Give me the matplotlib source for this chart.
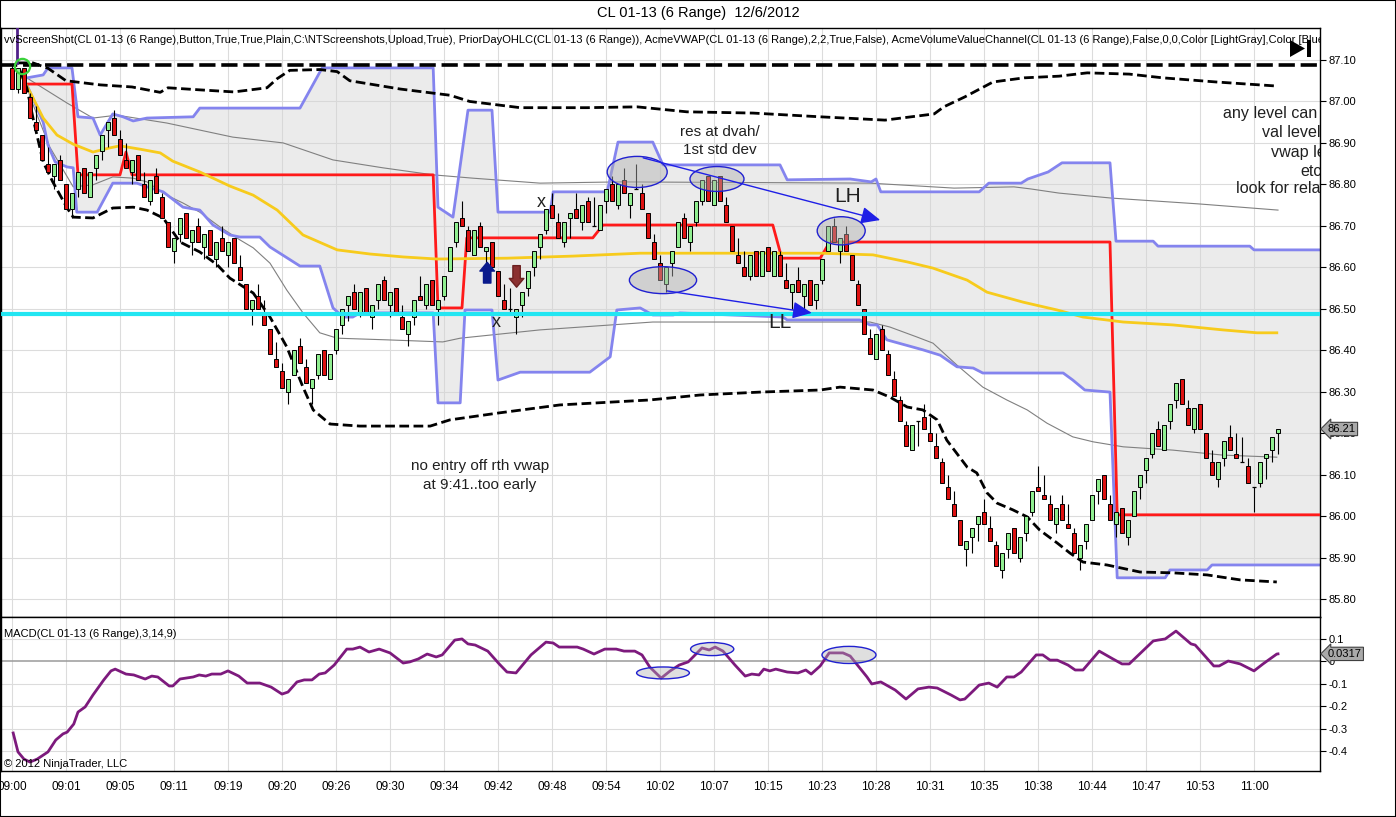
import numpy as np
import matplotlib
matplotlib.use("Agg")
import matplotlib.pyplot as plt
from matplotlib.patches import Ellipse, Polygon, Rectangle
from matplotlib.transforms import blended_transform_factory

plt.rcParams['font.family'] = ['Liberation Sans', 'DejaVu Sans']

W, H = 1396, 817

# time labels, one every 9 bars
time_labels = ['09:00', '09:01', '09:05', '09:11', '09:19', '09:20', '09:26', '09:30',
               '09:34', '09:42', '09:48', '09:54', '10:02', '10:07', '10:15', '10:23',
               '10:28', '10:31', '10:35', '10:38', '10:44', '10:47', '10:53', '11:00']

# 6 range bars, CL 01-13
opens = [87.08, 87.03, 87.08, 87.01, 86.95, 86.92, 86.85, 86.82, 86.86, 86.80, 86.74, 86.79,
         86.84, 86.77, 86.84, 86.88, 86.93, 86.96, 86.91, 86.86, 86.83, 86.87, 86.80, 86.76,
         86.82, 86.77, 86.71, 86.64, 86.68, 86.73, 86.66, 86.70, 86.65, 86.69, 86.62, 86.67,
         86.63, 86.67, 86.60, 86.56, 86.50, 86.53, 86.49, 86.45, 86.38, 86.35, 86.30, 86.34,
         86.41, 86.36, 86.31, 86.34, 86.40, 86.33, 86.40, 86.46, 86.51, 86.54, 86.49, 86.55,
         86.48, 86.52, 86.57, 86.51, 86.55, 86.48, 86.44, 86.48, 86.53, 86.51, 86.57, 86.50,
         86.53, 86.59, 86.66, 86.72, 86.69, 86.63, 86.70, 86.64, 86.66, 86.59, 86.52, 86.50,
         86.48, 86.51, 86.55, 86.60, 86.65, 86.69, 86.75, 86.71, 86.66, 86.72, 86.74, 86.71,
         86.76, 86.70, 86.69, 86.76, 86.80, 86.75, 86.81, 86.75, 86.79, 86.78, 86.73, 86.66,
         86.61, 86.56, 86.61, 86.65, 86.72, 86.66, 86.71, 86.76, 86.82, 86.75, 86.82, 86.75,
         86.70, 86.63, 86.60, 86.58, 86.64, 86.58, 86.65, 86.58, 86.63, 86.57, 86.54, 86.57,
         86.53, 86.57, 86.52, 86.57, 86.64, 86.70, 86.64, 86.68, 86.63, 86.56, 86.50, 86.43,
         86.38, 86.45, 86.39, 86.33, 86.28, 86.22, 86.16, 86.23, 86.24, 86.20, 86.17, 86.13,
         86.07, 86.03, 85.99, 85.92, 85.95, 85.98, 86.01, 85.97, 85.93, 85.87, 85.92, 85.97,
         85.90, 85.96, 86.01, 86.07, 86.05, 86.03, 85.98, 86.03, 85.98, 85.96, 85.90, 85.94,
         85.99, 86.06, 86.10, 86.03, 85.98, 86.02, 85.95, 86.00, 86.07, 86.11, 86.15, 86.21,
         86.16, 86.23, 86.28, 86.33, 86.26, 86.21, 86.27, 86.20, 86.13, 86.09, 86.14, 86.19,
         86.15, 86.13, 86.12, 86.07, 86.08, 86.14, 86.16, 86.20]
highs = [87.09, 87.08, 87.08, 87.02, 86.99, 86.92, 86.89, 86.85, 86.87, 86.80, 86.78, 86.83,
         86.84, 86.83, 86.87, 86.92, 86.95, 86.98, 86.93, 86.90, 86.86, 86.87, 86.83, 86.81,
         86.84, 86.78, 86.71, 86.67, 86.72, 86.73, 86.69, 86.72, 86.68, 86.69, 86.66, 86.70,
         86.66, 86.67, 86.63, 86.56, 86.52, 86.56, 86.52, 86.45, 86.42, 86.37, 86.33, 86.40,
         86.43, 86.38, 86.33, 86.39, 86.40, 86.39, 86.45, 86.50, 86.53, 86.56, 86.54, 86.55,
         86.51, 86.56, 86.58, 86.54, 86.55, 86.51, 86.47, 86.52, 86.58, 86.56, 86.57, 86.52,
         86.58, 86.65, 86.71, 86.76, 86.70, 86.69, 86.71, 86.65, 86.66, 86.59, 86.56, 86.55,
         86.50, 86.54, 86.59, 86.64, 86.68, 86.74, 86.78, 86.73, 86.71, 86.73, 86.78, 86.75,
         86.77, 86.77, 86.75, 86.79, 86.82, 86.80, 86.84, 86.78, 86.85, 86.80, 86.73, 86.68,
         86.63, 86.60, 86.64, 86.71, 86.73, 86.70, 86.76, 86.81, 86.82, 86.81, 86.82, 86.77,
         86.70, 86.67, 86.64, 86.63, 86.64, 86.64, 86.65, 86.64, 86.64, 86.61, 86.56, 86.60,
         86.56, 86.57, 86.56, 86.62, 86.70, 86.72, 86.67, 86.70, 86.63, 86.57, 86.50, 86.45,
         86.44, 86.46, 86.40, 86.35, 86.29, 86.23, 86.22, 86.23, 86.27, 86.24, 86.20, 86.14,
         86.10, 86.06, 85.99, 85.94, 85.97, 86.00, 86.04, 86.00, 85.94, 85.91, 85.96, 85.97,
         85.95, 86.00, 86.06, 86.12, 86.10, 86.05, 86.02, 86.05, 86.03, 85.97, 85.93, 85.98,
         86.05, 86.09, 86.10, 86.05, 86.01, 86.02, 85.99, 86.06, 86.10, 86.14, 86.20, 86.23,
         86.22, 86.27, 86.32, 86.33, 86.28, 86.26, 86.27, 86.20, 86.16, 86.13, 86.18, 86.22,
         86.20, 86.19, 86.14, 86.07, 86.13, 86.15, 86.19, 86.21]
lows = [87.03, 87.02, 87.02, 86.96, 86.93, 86.86, 86.83, 86.79, 86.81, 86.74, 86.72, 86.77,
        86.78, 86.77, 86.81, 86.86, 86.89, 86.92, 86.87, 86.84, 86.80, 86.81, 86.77, 86.75,
        86.78, 86.72, 86.65, 86.61, 86.66, 86.67, 86.63, 86.66, 86.62, 86.63, 86.60, 86.64,
        86.60, 86.61, 86.57, 86.50, 86.46, 86.50, 86.46, 86.39, 86.36, 86.31, 86.27, 86.34,
        86.37, 86.32, 86.27, 86.33, 86.34, 86.33, 86.39, 86.44, 86.47, 86.50, 86.48, 86.49,
        86.45, 86.50, 86.52, 86.48, 86.49, 86.45, 86.41, 86.46, 86.52, 86.50, 86.51, 86.46,
        86.52, 86.59, 86.65, 86.70, 86.64, 86.63, 86.65, 86.59, 86.60, 86.53, 86.50, 86.49,
        86.44, 86.48, 86.53, 86.58, 86.62, 86.68, 86.72, 86.67, 86.65, 86.67, 86.72, 86.69,
        86.71, 86.70, 86.69, 86.73, 86.76, 86.74, 86.78, 86.72, 86.79, 86.74, 86.67, 86.62,
        86.57, 86.54, 86.58, 86.65, 86.67, 86.64, 86.70, 86.75, 86.76, 86.75, 86.76, 86.71,
        86.64, 86.61, 86.58, 86.57, 86.58, 86.58, 86.59, 86.58, 86.58, 86.55, 86.50, 86.54,
        86.50, 86.51, 86.50, 86.56, 86.64, 86.66, 86.61, 86.64, 86.57, 86.51, 86.44, 86.39,
        86.38, 86.40, 86.34, 86.29, 86.23, 86.17, 86.16, 86.17, 86.21, 86.18, 86.14, 86.08,
        86.04, 86.00, 85.93, 85.88, 85.91, 85.94, 85.98, 85.94, 85.88, 85.85, 85.90, 85.91,
        85.89, 85.94, 86.00, 86.06, 86.04, 85.99, 85.96, 85.99, 85.97, 85.91, 85.87, 85.92,
        85.99, 86.03, 86.04, 85.99, 85.95, 85.96, 85.93, 86.00, 86.04, 86.08, 86.14, 86.17,
        86.16, 86.21, 86.26, 86.27, 86.22, 86.20, 86.21, 86.14, 86.10, 86.07, 86.12, 86.16,
        86.14, 86.13, 86.08, 86.01, 86.07, 86.09, 86.13, 86.15]
closes = [87.03, 87.08, 87.02, 86.96, 86.93, 86.86, 86.83, 86.85, 86.81, 86.74, 86.78, 86.83,
          86.78, 86.83, 86.87, 86.92, 86.95, 86.92, 86.87, 86.84, 86.86, 86.81, 86.77, 86.81,
          86.78, 86.72, 86.65, 86.67, 86.72, 86.67, 86.69, 86.66, 86.68, 86.63, 86.66, 86.64,
          86.66, 86.61, 86.57, 86.50, 86.52, 86.50, 86.46, 86.39, 86.36, 86.31, 86.33, 86.40,
          86.37, 86.32, 86.33, 86.39, 86.34, 86.39, 86.45, 86.50, 86.53, 86.50, 86.54, 86.49,
          86.51, 86.56, 86.52, 86.54, 86.49, 86.45, 86.47, 86.52, 86.52, 86.56, 86.51, 86.52,
          86.58, 86.65, 86.71, 86.70, 86.64, 86.69, 86.65, 86.65, 86.60, 86.53, 86.50, 86.50,
          86.50, 86.54, 86.59, 86.64, 86.68, 86.74, 86.72, 86.67, 86.71, 86.73, 86.72, 86.75,
          86.71, 86.70, 86.75, 86.79, 86.76, 86.80, 86.78, 86.78, 86.79, 86.74, 86.67, 86.62,
          86.57, 86.60, 86.64, 86.71, 86.67, 86.70, 86.76, 86.81, 86.76, 86.81, 86.76, 86.71,
          86.64, 86.61, 86.58, 86.63, 86.58, 86.64, 86.59, 86.64, 86.58, 86.55, 86.56, 86.54,
          86.56, 86.51, 86.56, 86.62, 86.70, 86.66, 86.67, 86.64, 86.57, 86.51, 86.44, 86.39,
          86.44, 86.40, 86.34, 86.29, 86.23, 86.17, 86.22, 86.23, 86.21, 86.18, 86.14, 86.08,
          86.04, 86.00, 85.93, 85.94, 85.97, 86.00, 85.98, 85.94, 85.88, 85.91, 85.96, 85.91,
          85.95, 86.00, 86.06, 86.06, 86.04, 85.99, 86.02, 85.99, 85.97, 85.91, 85.93, 85.98,
          86.05, 86.09, 86.04, 85.99, 86.01, 85.96, 85.99, 86.06, 86.10, 86.14, 86.20, 86.17,
          86.22, 86.27, 86.32, 86.27, 86.22, 86.26, 86.21, 86.14, 86.10, 86.13, 86.18, 86.16,
          86.14, 86.13, 86.08, 86.07, 86.13, 86.15, 86.19, 86.21]

prior_high = 87.088
level_line = 86.487

# vwap and bands (bar index, price)
vwap_x = [1, 3, 5.2, 7.5, 10.2, 13.5, 16.3, 18, 21.3, 24.7, 26.8, 31.3, 36.3, 40.2, 44.2, 48.5,
          54.2, 59.7, 65.2, 70.8, 82.5, 93.5, 104.7, 134.7, 143.5, 149.2, 153.5, 159.2, 162.5,
          168.5, 174.2, 178.5, 185.2, 193.5, 201.8, 207.5, 210.8]
vwap_y = [87.076, 87.023, 86.96, 86.919, 86.897, 86.878, 86.888, 86.893, 86.885, 86.876, 86.856,
          86.83, 86.796, 86.774, 86.738, 86.678, 86.642, 86.632, 86.625, 86.62, 86.622, 86.627,
          86.634, 86.634, 86.63, 86.613, 86.598, 86.569, 86.54, 86.516, 86.497, 86.48, 86.468,
          86.461, 86.449, 86.442, 86.442]
upper_x = [1, 3.5, 6, 9, 14.7, 20, 24.7, 26, 31.3, 37, 42.5, 44.2, 46.3, 51.3, 54.2, 56.3, 64.7,
           73, 76.3, 84.7, 95.8, 104.2, 112.5, 123.5, 134.7, 145.5, 153.7, 155.3, 158.8, 163.5,
           168.7, 174.5, 179.2, 186.2, 191.8, 200.7, 211]
upper_y = [87.093, 87.093, 87.08, 87.05, 87.04, 87.035, 87.022, 87.033, 87.028, 87.023, 87.033,
           87.055, 87.075, 87.077, 87.072, 87.05, 87.03, 87.015, 87.0, 86.985, 86.985, 86.987,
           86.975, 86.972, 86.963, 86.955, 86.97, 86.987, 87.011, 87.047, 87.057, 87.061, 87.069,
           87.066, 87.057, 87.047, 87.037]
lower_x = [1.3, 2.5, 3.5, 5.2, 6.8, 9.2, 10.2, 13.5, 16.8, 20.2, 22.5, 25.2, 28, 31.3, 34.2,
           36.3, 40.2, 43, 45.8, 48.5, 50.2, 53, 58, 69.7, 73, 81.3, 91.3, 106.3, 114.7, 124.7,
           134.7, 138, 143.5, 146.3, 149.2, 151.8, 154.2, 155.8, 159.2, 160.8, 162.5, 164.2,
           166.8, 169.2, 171.3, 174.2, 176.3, 178.5, 182.5, 188, 193.5, 199.2, 204.7, 210.8]
lower_y = [87.076, 87.032, 86.96, 86.854, 86.806, 86.743, 86.721, 86.719, 86.743, 86.745, 86.738,
           86.719, 86.661, 86.637, 86.606, 86.574, 86.538, 86.48, 86.408, 86.311, 86.256, 86.222,
           86.217, 86.217, 86.232, 86.249, 86.268, 86.28, 86.292, 86.299, 86.304, 86.311, 86.304,
           86.287, 86.263, 86.256, 86.232, 86.183, 86.118, 86.104, 86.056, 86.031, 86.015, 85.998,
           85.966, 85.935, 85.911, 85.889, 85.882, 85.865, 85.863, 85.858, 85.846, 85.841]

# value area high / low
vah_x = [2.5, 5.2, 6, 10, 11, 13.5, 14.7, 16.8, 18.5, 20.2, 22.5, 30.2, 31.3, 48, 51.7, 70.2, 71,
         73.5, 76, 80, 81, 89.7, 90.2, 99.2, 101, 106.8, 108.5, 128, 129.2, 139.7, 143.2, 144,
         144.8, 161.2, 162.8, 168.2, 169.3, 171.3, 172.7, 175, 183, 184, 190.2, 191, 206.3, 207, 218]
vah_y = [87.057, 87.064, 87.081, 87.081, 86.963, 86.96, 86.919, 86.97, 86.963, 86.953, 86.96,
         86.963, 86.984, 86.984, 87.081, 87.081, 86.745, 86.721, 86.979, 86.979, 86.733, 86.733,
         86.782, 86.782, 86.902, 86.902, 86.847, 86.847, 86.811, 86.813, 86.806, 86.813, 86.782,
         86.782, 86.803, 86.803, 86.813, 86.823, 86.83, 86.852, 86.852, 86.663, 86.663, 86.651,
         86.651, 86.642, 86.642]
val_x = [2.5, 3, 5.2, 6, 7.2, 9.2, 10.2, 10.8, 14.2, 16.8, 20.8, 22.5, 25.2, 28.5, 31.3, 33.5,
         36.3, 38, 41.3, 43, 48, 51.3, 53.5, 55.2, 56.8, 58, 70.2, 71, 74.7, 75.5, 80, 81, 84.7,
         96.3, 99.7, 100.8, 104.7, 106.8, 110.2, 111.3, 128.5, 129.2, 141.3, 143, 144.2, 145.8,
         151.8, 154.7, 157.5, 160.2, 161.8, 175.2, 176.8, 178.8, 183, 184.2, 192.2, 193, 199.2,
         200, 218]
val_y = [87.04, 87.023, 86.95, 86.895, 86.854, 86.842, 86.84, 86.733, 86.733, 86.803, 86.803,
         86.794, 86.782, 86.745, 86.738, 86.702, 86.678, 86.673, 86.673, 86.649, 86.603, 86.603,
         86.502, 86.48, 86.48, 86.49, 86.49, 86.273, 86.273, 86.497, 86.497, 86.328, 86.347,
         86.347, 86.384, 86.497, 86.502, 86.485, 86.485, 86.49, 86.48, 86.473, 86.473, 86.461,
         86.461, 86.425, 86.401, 86.388, 86.36, 86.357, 86.345, 86.345, 86.328, 86.304, 86.299,
         85.851, 85.851, 85.87, 85.87, 85.882, 85.882]

# developing POC
poc_x = [2.5, 10, 11, 18, 19, 20, 70.2, 71, 75, 75.8, 96.8, 98.5, 126.8, 128.3, 134.7, 136.3,
         183, 184.2, 218]
poc_y = [87.042, 87.042, 86.823, 86.823, 86.878, 86.823, 86.823, 86.502, 86.502, 86.671, 86.671,
         86.702, 86.702, 86.622, 86.622, 86.661, 86.661, 86.003, 86.003]

# thin grey std-dev lines
sd1_x = [2.5, 3, 9.2, 13.5, 17.5, 25.8, 36.8, 45.2, 53.5, 61.8, 70.2, 76.8, 88, 101.3, 143, 157,
         167, 169.8, 174.5, 183.2, 197.7, 211]
sd1_y = [87.057, 87.052, 86.996, 86.96, 86.967, 86.948, 86.914, 86.90, 86.859, 86.84, 86.823,
         86.815, 86.803, 86.806, 86.803, 86.791, 86.794, 86.789, 86.779, 86.767, 86.753, 86.738]
sd2_x = [2.5, 3, 6.3, 10.2, 13.5, 16.8, 20.2, 22.5, 25.8, 28.5, 31.3, 34.7, 38, 40.2, 43, 45.8,
         48.5, 51.3, 54.2, 62.5, 71.8, 74.7, 88, 106.8, 143, 146.3, 150.8, 153.5, 157.5, 161.8,
         165.8, 169.2, 172.5, 176.8, 180.2, 185.2, 193.5, 201.8, 210.8]
sd2_y = [87.04, 87.011, 86.89, 86.794, 86.799, 86.818, 86.815, 86.806, 86.774, 86.755, 86.733,
         86.697, 86.666, 86.647, 86.61, 86.545, 86.49, 86.442, 86.429, 86.425, 86.42, 86.429,
         86.449, 86.468, 86.468, 86.456, 86.432, 86.417, 86.364, 86.311, 86.28, 86.256, 86.224,
         86.191, 86.179, 86.167, 86.159, 86.147, 86.142]

# MACD(3,14,9)
macd_x = [0.2, 1, 2, 3, 4.2, 6, 7.3, 8.5, 9.2, 10.3, 11, 12.2, 13.5, 15.3, 16.5, 17.2, 19, 20.3,
          22.2, 23.3, 24.3, 26.2, 26.8, 28, 30.2, 31.2, 32.3, 33.3, 34.8, 36, 37.8, 39.2, 41.3,
          43.2, 45, 46, 47.5, 48.7, 50, 51.2, 52.2, 53.7, 55.8, 56.8, 58, 59.5, 61.2, 63, 65.2,
          66.3, 67.7, 69.2, 70.7, 71.7, 73.8, 75, 76, 77.2, 79.3, 81.2, 82.5, 84, 86.5, 89, 90.2,
          91.2, 94.2, 95.2, 97, 98.8, 100.7, 102, 103.8, 105, 106.3, 108.2, 109.7, 111.2, 112.7,
          115, 116.2, 117.2, 118.5, 120.5, 122.2, 123.3, 124.5, 125.3, 126.3, 127.3, 129.2, 131,
          132.3, 133.2, 134.7, 136.2, 138.5, 139.7, 142.5, 143.3, 144.8, 147.2, 149, 151, 152.8,
          154.2, 156.5, 158, 158.8, 161.2, 162.8, 164.2, 165.8, 167, 168.2, 170.7, 171.8, 173,
          174.2, 176, 177.2, 178.5, 181.2, 183.5, 185, 186.2, 190.2, 191, 192.2, 194, 196.5,
          197.2, 200.3, 201.2, 202.7, 204.7, 207, 208.5, 210.8, 211]
macd_y = [-0.32, -0.404, -0.436, -0.449, -0.436, -0.404, -0.351, -0.324, -0.316, -0.28, -0.227,
          -0.204, -0.151, -0.084, -0.044, -0.036, -0.058, -0.062, -0.08, -0.067, -0.071, -0.111,
          -0.111, -0.08, -0.071, -0.062, -0.067, -0.058, -0.058, -0.044, -0.067, -0.098, -0.098,
          -0.116, -0.147, -0.138, -0.093, -0.084, -0.084, -0.058, -0.053, -0.018, 0.053, 0.053,
          0.062, 0.04, 0.053, 0.036, -0.009, -0.004, 0.009, 0.031, 0.018, 0.027, 0.093, 0.098,
          0.076, 0.071, 0.044, -0.013, -0.049, -0.053, 0.027, 0.084, 0.08, 0.062, 0.062, 0.053,
          0.031, 0.053, 0.053, 0.044, 0.044, 0.027, -0.027, -0.076, -0.044, -0.018, -0.004,
          0.058, 0.049, 0.062, 0.044, -0.018, -0.067, -0.058, -0.062, -0.036, -0.044, -0.036,
          -0.049, -0.053, -0.04, -0.058, -0.022, 0.036, 0.036, 0.022, -0.071, -0.102, -0.093,
          -0.129, -0.169, -0.124, -0.116, -0.12, -0.151, -0.173, -0.169, -0.107, -0.098, -0.116,
          -0.071, -0.071, -0.049, 0.027, 0.027, 0.004, 0.004, -0.018, -0.04, -0.04, 0.044, 0.009,
          -0.013, -0.013, 0.089, 0.093, 0.098, 0.133, 0.076, 0.071, -0.022, -0.022, 0.0, -0.013,
          -0.044, -0.013, 0.031, 0.0317]

header = ("vvScreenShot(CL 01-13 (6 Range),Button,True,True,Plain,C:\\NTScreenshots,Upload,True), "
          "PriorDayOHLC(CL 01-13 (6 Range)), AcmeVWAP(CL 01-13 (6 Range),2,2,True,False), "
          "AcmeVolumeValueChannel(CL 01-13 (6 Range),False,0,0,Color [LightGray],Color [Blue])")

fig = plt.figure(figsize=(W / 100, H / 100), dpi=100)
fig.patch.set_facecolor('white')


def frac(x, y):
    return x / W, 1 - y / H


ax = fig.add_axes([1 / W, 1 - 617 / H, 1319 / W, 589 / H])
axm = fig.add_axes([1 / W, 1 - 771 / H, 1319 / W, 154 / H])

n = len(closes)
xs = np.arange(n)
tick_pos = np.arange(len(time_labels)) * 9

for a in (ax, axm):
    a.set_xlim(-1.83, 218)
    for t in tick_pos:
        a.axvline(t, color='#dcdcdc', lw=0.8, zorder=0)
    for s in a.spines.values():
        s.set_color('black')
        s.set_linewidth(1)
    a.yaxis.tick_right()
    a.tick_params(axis='y', labelsize=8, length=4, width=0.8, pad=2, colors='black')

ax.set_ylim(85.7565, 87.1772)
price_ticks = np.round(np.arange(85.80, 87.101, 0.10), 2)
ax.set_yticks(price_ticks)
ax.set_yticklabels([f'{p:.2f}' for p in price_ticks])
for p in price_ticks:
    ax.axhline(p, color='#dcdcdc', lw=0.8, zorder=0)
ax.set_xticks([])

# value area fill
poly = list(zip(vah_x, vah_y)) + list(zip(val_x[::-1], val_y[::-1]))
ax.add_patch(Polygon(poly, closed=True, facecolor='#d4d4d4', alpha=0.45, edgecolor='none', zorder=1))

ax.plot(sd1_x, sd1_y, color='#808080', lw=0.8, zorder=2)
ax.plot(sd2_x, sd2_y, color='#808080', lw=0.8, zorder=2)
ax.plot(vah_x, vah_y, color='#8484ee', lw=2, zorder=2.5)
ax.plot(val_x, val_y, color='#8484ee', lw=2, zorder=2.5)
ax.plot(poc_x, poc_y, color='#ff1a1a', lw=2, zorder=2.6)
ax.plot(vwap_x, vwap_y, color='#f7cb1c', lw=2, zorder=2.7)
ax.plot(upper_x, upper_y, color='black', lw=2, dashes=(3.5, 1.6), zorder=2.8)
ax.plot(lower_x, lower_y, color='black', lw=2, dashes=(3.5, 1.6), zorder=2.8)

# candles
o = np.array(opens)
c = np.array(closes)
ax.vlines(xs, lows, highs, color='black', lw=0.8, zorder=3)
body_col = np.where(c > o, '#90ee90', '#dd1111')
up = c != o
ax.bar(xs[up], np.abs(c - o)[up], bottom=np.minimum(o, c)[up], width=0.66, color=body_col[up],
       edgecolor='black', linewidth=0.7, zorder=4)
ax.hlines(c[~up], xs[~up] - 0.33, xs[~up] + 0.33, color='black', lw=0.9, zorder=4)

ax.axhline(level_line, color='#22e6f2', lw=3, zorder=5)
ax.axhline(prior_high, color='black', lw=2.6, dashes=(4.5, 1.6), zorder=5)

# first bar markers
ax.plot([0.8, 0.8], [87.18, 87.093], color='#50208a', lw=2, zorder=6)
ax.plot([1.7], [87.085], marker='o', ms=11, mfc='none', mec='#3ad23a', mew=1.6, zorder=6)

# ellipses
for cx, cy, w, h in [(104.2, 86.83, 10, 0.075), (117.5, 86.813, 9, 0.06),
                     (138.2, 86.688, 8, 0.068), (108.5, 86.569, 11.2, 0.065)]:
    ax.add_patch(Ellipse((cx, cy), w, h, facecolor='#b0b0b0', alpha=0.45, edgecolor='none', zorder=6))
    ax.add_patch(Ellipse((cx, cy), w, h, facecolor='none', edgecolor='#2020d0', lw=1, zorder=6))

ax.annotate('', xy=(144.7, 86.714), xytext=(105.2, 86.864),
            arrowprops=dict(arrowstyle='-|>,head_length=0.9,head_width=0.4', color='#1f1fe6',
                            lw=1, mutation_scale=13, shrinkA=0, shrinkB=0), zorder=6)
ax.annotate('', xy=(133.3, 86.49), xytext=(109.2, 86.543),
            arrowprops=dict(arrowstyle='-|>,head_length=0.9,head_width=0.4', color='#1f1fe6',
                            lw=1, mutation_scale=13, shrinkA=0, shrinkB=0), zorder=6)

# entry arrows
ax.annotate('', xy=(79.2, 86.612), xytext=(79.2, 86.562),
            arrowprops=dict(arrowstyle='simple,head_length=0.45,head_width=0.75,tail_width=0.38',
                            fc='#0a1a8c', ec='#0a1a8c', mutation_scale=14, shrinkA=0, shrinkB=0), zorder=6)
ax.annotate('', xy=(84.1, 86.552), xytext=(84.1, 86.604),
            arrowprops=dict(arrowstyle='simple,head_length=0.45,head_width=0.75,tail_width=0.38',
                            fc='#8b3030', ec='#6b2020', mutation_scale=14, shrinkA=0, shrinkB=0), zorder=6)

# annotations
txt = dict(color='#202020', zorder=7)
ax.text(118, 86.926, 'res at dvah/', ha='center', va='center', fontsize=11, **txt)
ax.text(118, 86.883, '1st std dev', ha='center', va='center', fontsize=11, **txt)
ax.text(139.2, 86.77, 'LH', ha='center', va='center', fontsize=15, **txt)
ax.text(128, 86.468, 'LL', ha='center', va='center', fontsize=15, **txt)
ax.text(88.2, 86.757, 'x', ha='center', va='center', fontsize=13, **txt)
ax.text(80.8, 86.468, 'x', ha='center', va='center', fontsize=13, **txt)
ax.text(78, 86.121, 'no entry off rth vwap', ha='center', va='center', fontsize=11, **txt)
ax.text(78, 86.075, 'at 9:41..too early', ha='center', va='center', fontsize=11, **txt)
# right-hand note, cut off by the price axis as in the screenshot
for lx, ly, s in [(201.8, 86.97, 'any level can'), (208.3, 86.924, 'val level'),
                  (209.8, 86.878, 'vwap lev'), (214.7, 86.832, 'etc'),
                  (204.0, 86.789, 'look for relat')]:
    ax.text(lx, ly, s, ha='left', va='center', fontsize=11.6, clip_on=True, **txt)

ax.text(3 / 1319, 1 - 12 / 589, header, transform=ax.transAxes, ha='left', va='center',
        fontsize=8.05, clip_on=True, zorder=7)

bt = blended_transform_factory(ax.transAxes, ax.transData)
ax.text(1.006, closes[-1], f'{closes[-1]:.2f}', transform=bt, ha='left', va='center', fontsize=8,
        bbox=dict(boxstyle='larrow,pad=0.15', fc='#a9a9a9', ec='#404040', lw=0.8),
        clip_on=False, zorder=10)

# MACD panel
axm.set_ylim(-0.4889, 0.1956)
macd_ticks = [0.1, 0.0, -0.1, -0.2, -0.3, -0.4]
axm.set_yticks(macd_ticks)
axm.set_yticklabels(['0.1', '0', '-0.1', '-0.2', '-0.3', '-0.4'])
for v in macd_ticks:
    if v != 0:
        axm.axhline(v, color='#dcdcdc', lw=0.8, zorder=0)
axm.axhline(0, color='#9a9a9a', lw=1.1, zorder=1)
axm.plot(macd_x, macd_y, color='#7d1a7d', lw=2, zorder=3)
for cx, cy, w, h in [(108.5, -0.053, 8.8, 0.053), (116.7, 0.053, 7.2, 0.058), (139.5, 0.027, 9, 0.076)]:
    axm.add_patch(Ellipse((cx, cy), w, h, facecolor='#b0b0b0', alpha=0.4, edgecolor='none', zorder=4))
    axm.add_patch(Ellipse((cx, cy), w, h, facecolor='none', edgecolor='#2020d0', lw=1, zorder=4))
axm.set_xticks(tick_pos)
axm.set_xticklabels(time_labels)
axm.tick_params(axis='x', labelsize=8.5, length=0, pad=7)
axm.text(3 / 1319, 1 - 17 / 154, 'MACD(CL 01-13 (6 Range),3,14,9)', transform=axm.transAxes,
         ha='left', va='center', fontsize=8, zorder=7)
axm.text(3 / 1319, 7 / 154, '\u00a9 2012 NinjaTrader, LLC', transform=axm.transAxes,
         ha='left', va='center', fontsize=8, zorder=7)
btm = blended_transform_factory(axm.transAxes, axm.transData)
axm.text(1.006, macd_y[-1], f'{macd_y[-1]:.4f}', transform=btm, ha='left', va='center', fontsize=8,
         bbox=dict(boxstyle='larrow,pad=0.15', fc='#a9a9a9', ec='#404040', lw=0.8),
         clip_on=False, zorder=10)

# title and play icon
fig.text(0.5, 1 - 13 / H, 'CL 01-13 (6 Range)  12/6/2012', ha='center', va='center', fontsize=10.5)
fig.patches.append(Polygon([frac(1290, 40), frac(1290, 57), frac(1305, 48.5)], closed=True,
                           transform=fig.transFigure, facecolor='black', edgecolor='none'))
fig.patches.append(Rectangle(frac(1307, 57), 4 / W, 17 / H, transform=fig.transFigure,
                             facecolor='black', edgecolor='none'))
fig.patches.append(Rectangle((0, 0), 1, 1, transform=fig.transFigure, facecolor='none',
                             edgecolor='black', lw=1.5))

fig.savefig('out.png', dpi=100)
print("done")
